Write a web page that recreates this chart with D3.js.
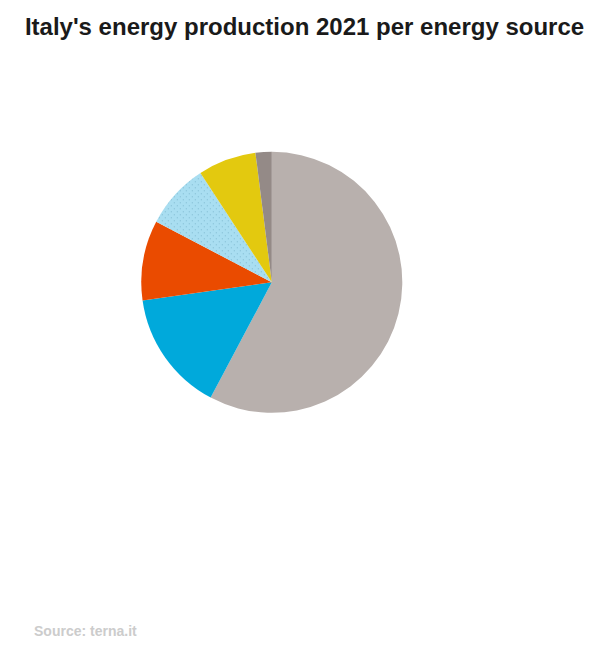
<!DOCTYPE html>
<html><head><meta charset="utf-8">
<script src="https://cdn.jsdelivr.net/npm/d3@7"></script>
<style>body{margin:0;background:#fff}</style>
</head><body>
<svg id="chart" width="600" height="650"></svg>
<script>
const categories = ["Thermal", "Hydro", "Bioenergy", "Wind", "Solar", "Geothermal"];
const values = [57.7, 15.0, 9.9, 8.1, 7.2, 2.0];
const colors = ["#b8b0ad", "#00a9db", "#ea4b00", "#a9def1", "#e3c90f", "#948a87"];

const svg = d3.select("#chart");
const defs = svg.append("defs");
const pat = defs.append("pattern").attr("id","dots").attr("patternUnits","userSpaceOnUse")
  .attr("width",6).attr("height",6);
pat.append("rect").attr("width",6).attr("height",6).attr("fill","#a9def1");
pat.append("rect").attr("x",1).attr("y",1).attr("width",1).attr("height",1).attr("fill","#7fb8cf");
pat.append("rect").attr("x",4).attr("y",4).attr("width",1).attr("height",1).attr("fill","#7fb8cf");

svg.append("text").attr("x",304.5).attr("y",35).attr("text-anchor","middle")
  .attr("font-family","Liberation Sans, Arial, sans-serif").attr("font-weight","bold")
  .attr("font-size",24).attr("fill","#1a1a1a")
  .text("Italy's energy production 2021 per energy source");

const data = categories.map((c,i)=>({cat:c, value:values[i], color:colors[i]}));
const pie = d3.pie().value(d=>d.value).sort(null);
const arc = d3.arc().innerRadius(0).outerRadius(130.5);
const g = svg.append("g").attr("transform","translate(271.8,282.3)");
g.selectAll("path").data(pie(data)).join("path")
  .attr("d",arc)
  .attr("fill",d=>d.data.cat==="Wind" ? "url(#dots)" : d.data.color);

svg.append("text").attr("x",34).attr("y",636)
  .attr("font-family","Liberation Sans, Arial, sans-serif").attr("font-weight","bold")
  .attr("font-size",14).attr("fill","#cccccc").text("Source: terna.it");
</script>
</body></html>
